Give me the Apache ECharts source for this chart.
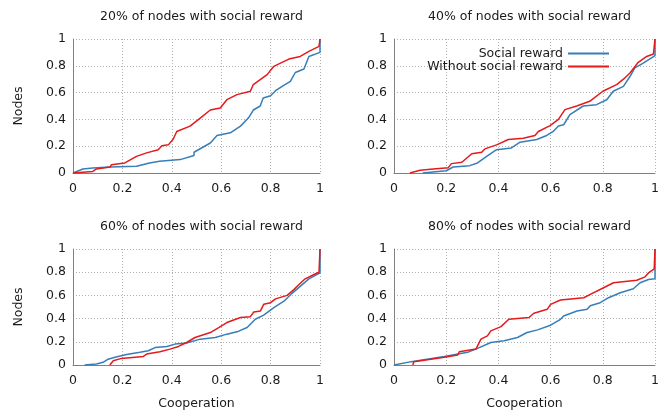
<!DOCTYPE html>
<html>
<head>
<meta charset="utf-8">
<script src="https://cdn.jsdelivr.net/npm/echarts@6/dist/echarts.min.js"></script>
<style>
  html, body { margin: 0; padding: 0; background: #fff; }
  #chart { width: 672px; height: 411px; }
</style>
</head>
<body>
<div id="chart"></div>
<script>
// panel titles and legend names
var panelTitles = ['20% of nodes with social reward', '40% of nodes with social reward',
                   '60% of nodes with social reward', '80% of nodes with social reward'];
var seriesNames = ['Social reward', 'Without social reward'];

// [cooperation, fraction of nodes]
var p20Social = [[0,0],[0.04,0.03],[0.08,0.037],[0.15,0.045],[0.257,0.05],[0.31,0.075],[0.35,0.087],
  [0.434,0.1],[0.49,0.13],[0.49,0.155],[0.556,0.224],[0.583,0.28],[0.637,0.3],[0.678,0.35],[0.71,0.41],
  [0.73,0.47],[0.758,0.5],[0.77,0.56],[0.8,0.577],[0.82,0.614],[0.85,0.65],[0.88,0.684],[0.9,0.75],
  [0.935,0.776],[0.955,0.87],[1,0.9],[1,1]];
var p20Without = [[0,0],[0.08,0.012],[0.095,0.03],[0.15,0.045],[0.156,0.062],[0.21,0.075],[0.257,0.124],
  [0.298,0.15],[0.345,0.174],[0.36,0.204],[0.386,0.21],[0.406,0.254],[0.42,0.31],[0.474,0.35],[0.515,0.41],
  [0.556,0.47],[0.596,0.485],[0.623,0.547],[0.664,0.585],[0.718,0.61],[0.73,0.66],[0.786,0.734],
  [0.813,0.796],[0.84,0.82],[0.874,0.85],[0.92,0.87],[0.955,0.908],[0.996,0.945],[1,0.945],[1,1]];

var p40Social = [[0.11,0],[0.2,0.017],[0.227,0.045],[0.29,0.055],[0.32,0.075],[0.355,0.124],[0.393,0.174],
  [0.45,0.187],[0.483,0.23],[0.547,0.25],[0.585,0.28],[0.61,0.31],[0.63,0.35],[0.65,0.36],[0.674,0.435],
  [0.725,0.5],[0.776,0.51],[0.815,0.547],[0.84,0.61],[0.879,0.647],[0.904,0.72],[0.923,0.784],
  [0.955,0.82],[1,0.876],[1,1]];
var p40Without = [[0.061,0],[0.1,0.02],[0.15,0.03],[0.208,0.04],[0.22,0.07],[0.26,0.08],[0.298,0.144],
  [0.336,0.154],[0.348,0.18],[0.393,0.21],[0.438,0.25],[0.495,0.26],[0.54,0.28],[0.553,0.31],[0.598,0.353],
  [0.63,0.4],[0.655,0.473],[0.7,0.5],[0.75,0.535],[0.8,0.61],[0.853,0.66],[0.879,0.7],[0.904,0.746],
  [0.936,0.826],[0.968,0.87],[0.994,0.888],[1,0.888],[1,1]];

var p60Social = [[0.047,0],[0.095,0.009],[0.122,0.023],[0.142,0.05],[0.17,0.066],[0.217,0.09],[0.271,0.11],
  [0.305,0.123],[0.332,0.15],[0.38,0.16],[0.413,0.18],[0.46,0.19],[0.515,0.223],[0.576,0.237],[0.623,0.266],
  [0.664,0.286],[0.705,0.323],[0.738,0.394],[0.772,0.43],[0.813,0.494],[0.854,0.55],[0.888,0.62],
  [0.921,0.68],[0.955,0.743],[1,0.794],[1,1]];
var p60Without = [[0.149,0],[0.163,0.037],[0.196,0.057],[0.285,0.074],[0.298,0.094],[0.352,0.114],
  [0.393,0.137],[0.427,0.16],[0.46,0.194],[0.494,0.237],[0.556,0.28],[0.59,0.323],[0.623,0.366],
  [0.678,0.41],[0.718,0.417],[0.732,0.457],[0.759,0.466],[0.772,0.523],[0.8,0.537],[0.82,0.57],
  [0.867,0.6],[0.894,0.65],[0.915,0.694],[0.94,0.743],[0.976,0.78],[0.996,0.8],[1,0.8],[1,1]];

var p80Social = [[0,0],[0.066,0.029],[0.193,0.074],[0.282,0.109],[0.32,0.143],[0.371,0.194],[0.422,0.209],
  [0.473,0.237],[0.51,0.28],[0.55,0.303],[0.6,0.343],[0.638,0.394],[0.65,0.423],[0.701,0.466],[0.74,0.48],
  [0.752,0.51],[0.79,0.537],[0.822,0.58],[0.867,0.623],[0.917,0.657],[0.943,0.709],[0.975,0.737],
  [1,0.743],[1,1]];
var p80Without = [[0.072,0],[0.076,0.029],[0.193,0.066],[0.244,0.086],[0.25,0.114],[0.314,0.137],
  [0.333,0.223],[0.358,0.251],[0.371,0.294],[0.41,0.331],[0.44,0.394],[0.517,0.409],[0.536,0.446],
  [0.587,0.48],[0.6,0.523],[0.638,0.56],[0.727,0.58],[0.752,0.609],[0.803,0.666],[0.841,0.709],
  [0.93,0.731],[0.962,0.76],[0.975,0.794],[0.997,0.829],[1,0.829],[1,1]];

var panelData = [[p20Social, p20Without], [p40Social, p40Without],
                 [p60Social, p60Without], [p80Social, p80Without]];

var colors = ['#377eb8', '#e41a1c'];
var font = 'DejaVu Sans';
var textColor = '#1a1a1a';
var fs = 12.5;

// pixel boxes for the 2x2 layout
var grids = [
  {left: 73,  top: 39,  width: 247, height: 134},
  {left: 394, top: 39,  width: 261, height: 134},
  {left: 73,  top: 249, width: 247, height: 117},
  {left: 394, top: 249, width: 261, height: 117}
];

var dom = document.getElementById('chart');
var myChart = echarts.init(dom, null, {renderer: 'canvas'});

var titles = [], xAxes = [], yAxes = [], series = [];
for (var i = 0; i < 4; i++) {
    var g = grids[i];
    titles.push({
        text: panelTitles[i],
        left: g.left + g.width / 2,
        top: g.top - 34,
        textAlign: 'center',
        textStyle: {fontFamily: font, fontSize: fs, fontWeight: 'normal', color: textColor}
    });
    xAxes.push({
        gridIndex: i, type: 'value', min: 0, max: 1, interval: 0.2,
        name: i >= 2 ? 'Cooperation' : '',
        nameLocation: 'middle', nameGap: 32,
        nameTextStyle: {fontFamily: font, fontSize: fs, color: textColor},
        axisLine: {show: true, lineStyle: {color: '#808080', width: 1}},
        axisTick: {show: false},
        axisLabel: {fontFamily: font, fontSize: fs, color: textColor, margin: 9},
        splitLine: {show: true, lineStyle: {color: '#b0b0b0', type: [1, 2], width: 1}}
    });
    yAxes.push({
        gridIndex: i, type: 'value', min: 0, max: 1, interval: 0.2,
        name: (i % 2 === 0) ? 'Nodes' : '',
        nameLocation: 'middle', nameGap: 48, nameRotate: 90,
        nameTextStyle: {fontFamily: font, fontSize: fs, color: textColor},
        axisLine: {show: true, lineStyle: {color: '#808080', width: 1}},
        axisTick: {show: false},
        axisLabel: {fontFamily: font, fontSize: fs, color: textColor, margin: 7},
        splitLine: {show: true, lineStyle: {color: '#b0b0b0', type: [1, 2], width: 1}}
    });
    for (var s = 0; s < 2; s++) {
        series.push({
            name: seriesNames[s],
            type: 'line',
            xAxisIndex: i, yAxisIndex: i,
            data: panelData[i][s],
            showSymbol: false,
            lineStyle: {color: colors[s], width: 1.5},
            itemStyle: {color: colors[s]},
            clip: false,
            animation: false
        });
    }
}

var option = {
    backgroundColor: '#fff',
    animation: false,
    title: titles,
    legend: {
        data: seriesNames,
        orient: 'vertical',
        align: 'right',
        right: 58,
        top: 42,
        itemWidth: 41,
        itemHeight: 2,
        itemGap: 0,
        icon: 'rect',
        textStyle: {fontFamily: font, fontSize: fs, color: textColor},
        selectedMode: false
    },
    grid: grids,
    xAxis: xAxes,
    yAxis: yAxes,
    series: series
};
myChart.setOption(option);
</script>
</body>
</html>
